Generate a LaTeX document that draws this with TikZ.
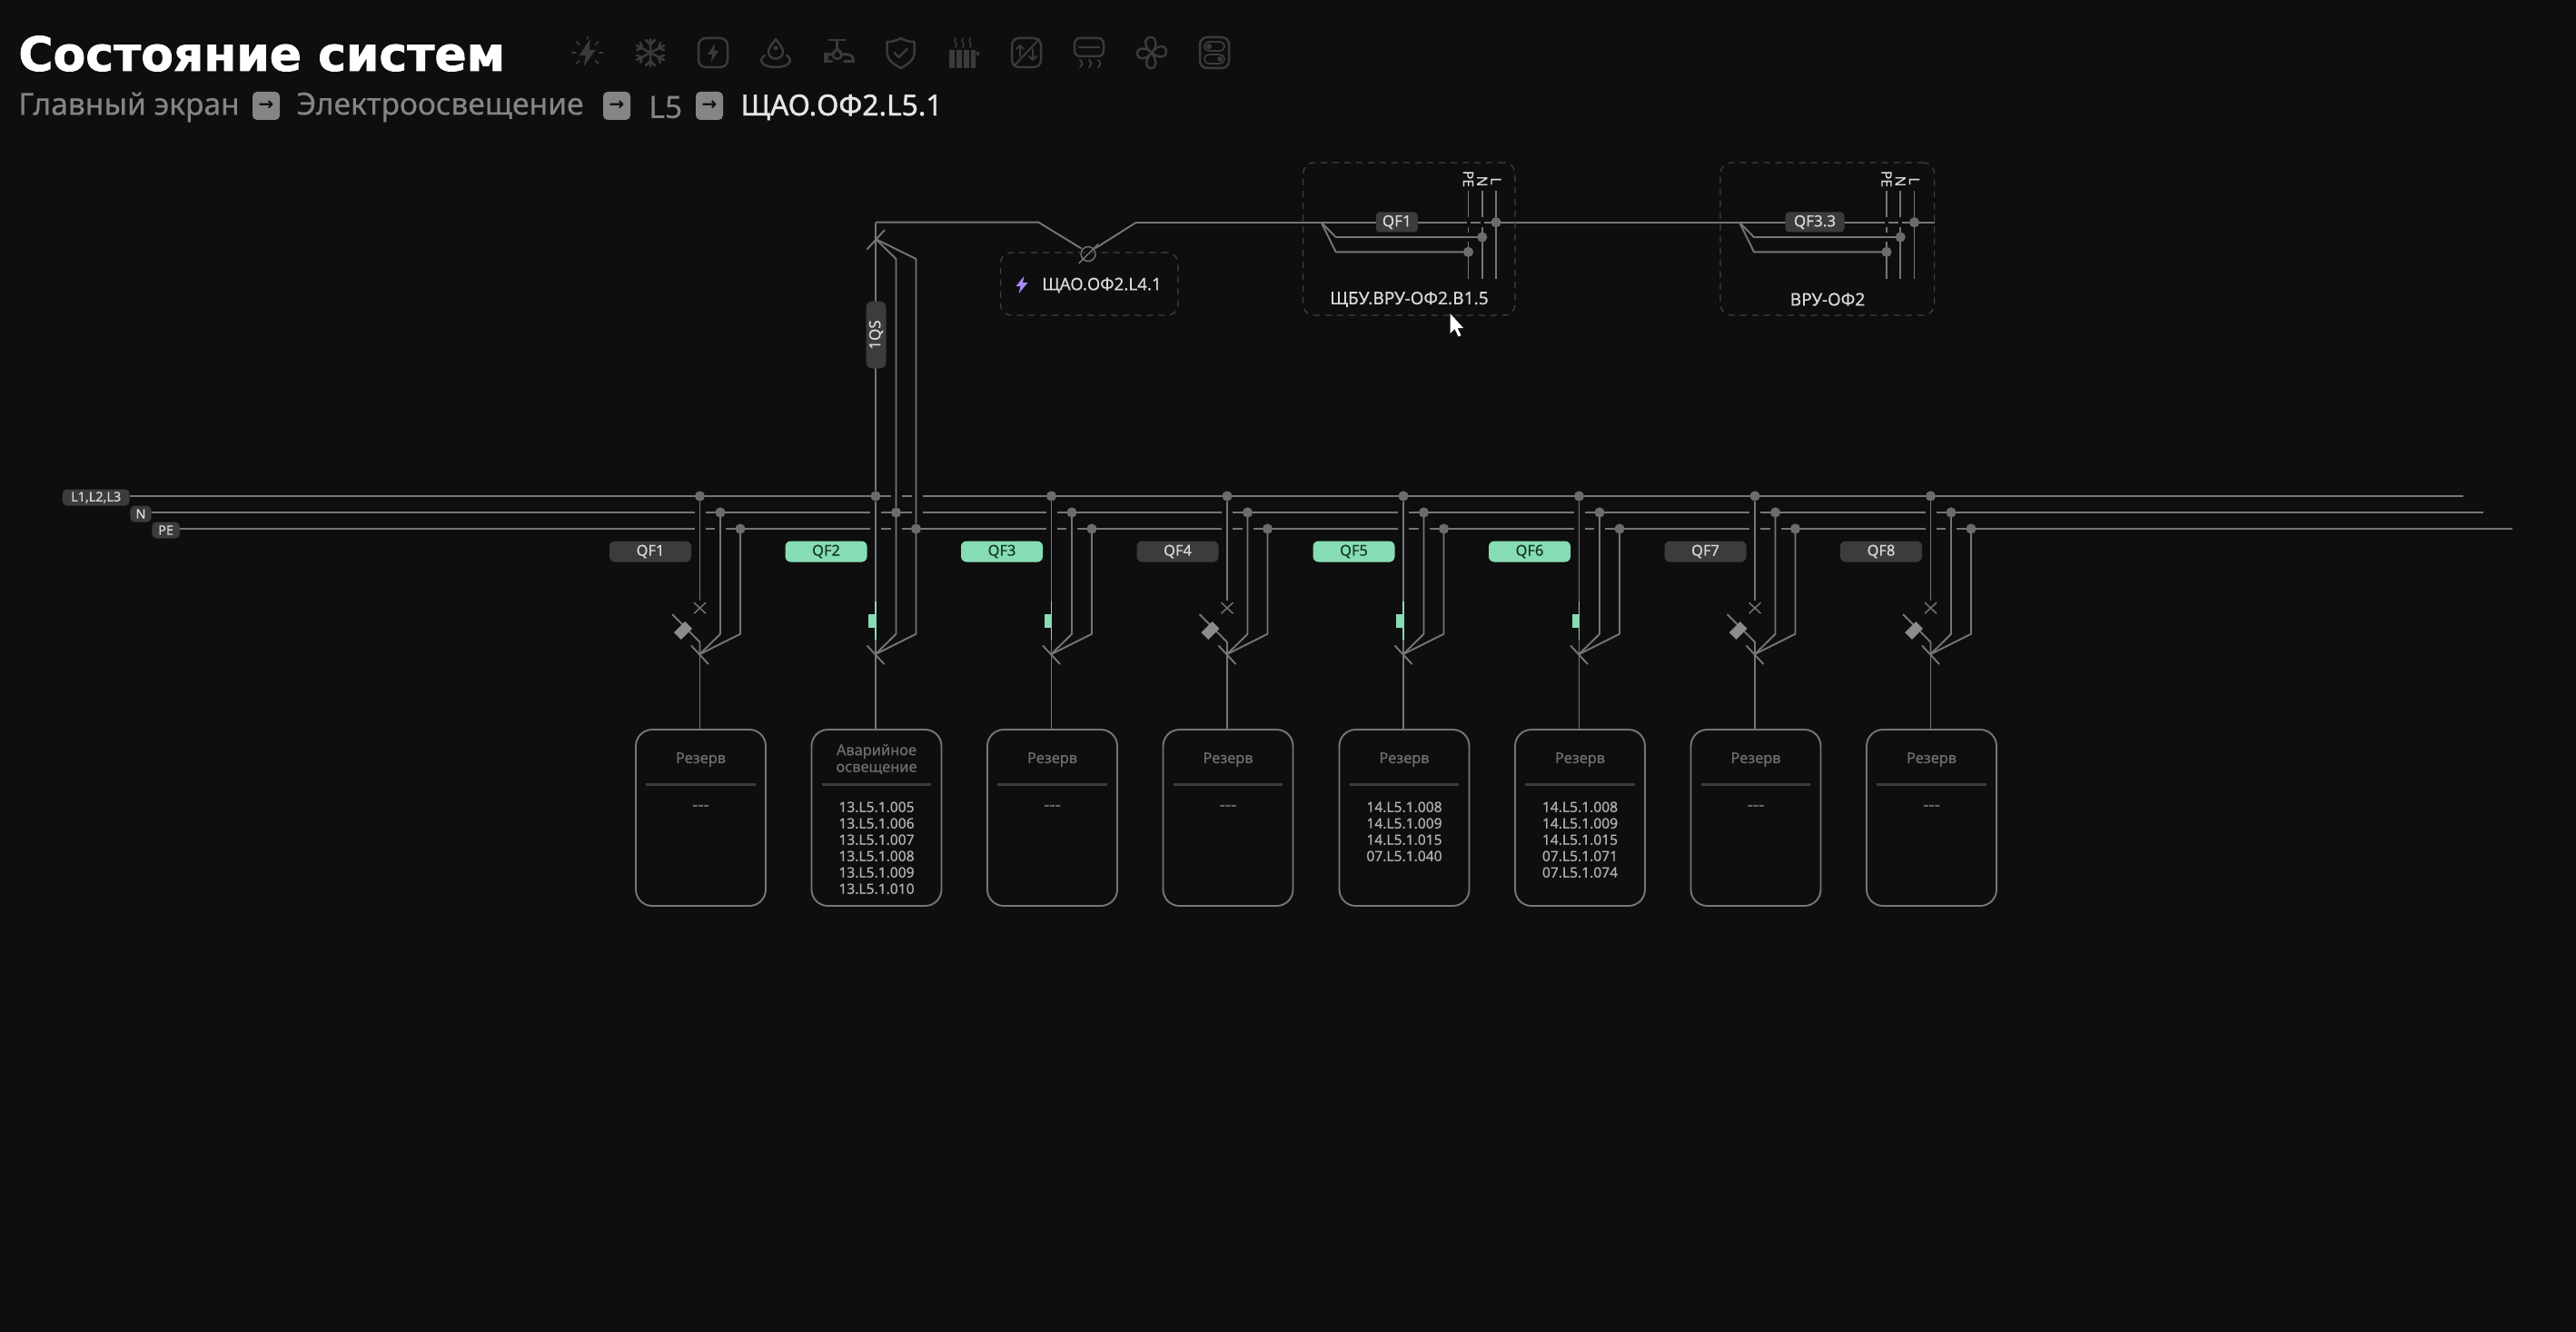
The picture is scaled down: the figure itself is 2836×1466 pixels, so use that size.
\documentclass[tikz,border=0pt]{standalone}
\usepackage{fontspec}
\setmainfont{Noto Sans}[BoldFeatures={FakeBold=0.6}]
\newfontfamily\titlefont{DejaVu Sans}[BoldFeatures={FakeBold=1.4}]
\newfontfamily\arrowfont{DejaVu Sans}
\newfontfamily\medfont{Noto Sans}[FakeBold=0.5]
\newfontfamily\strongfont{Noto Sans}[FakeBold=1.3]
\usetikzlibrary{calc}
\definecolor{bg}{HTML}{0E0E0F}
\definecolor{wire}{HTML}{767676}
\definecolor{dotc}{HTML}{6C6C6C}
\definecolor{chip}{HTML}{3C3C3C}
\definecolor{chiptext}{HTML}{D8D8D8}
\definecolor{mint}{HTML}{86DCB4}
\definecolor{minttext}{HTML}{17382B}
\definecolor{iconc}{HTML}{3A3A3A}
\definecolor{crumb}{HTML}{858585}
\definecolor{dash}{HTML}{424242}
\definecolor{head}{HTML}{6E6E6E}
\definecolor{listc}{HTML}{B0B0B0}
\definecolor{divc}{HTML}{3D3D3D}
\definecolor{bolt}{HTML}{A98BF5}
\definecolor{coil}{HTML}{8C8C8C}
\tikzset{
  wireline/.style={draw=wire,line width=0.95pt,line join=round},
  busline/.style={draw=wire,line width=1.15pt},
  gapline/.style={draw=bg,line width=2pt},
  junction/.style={circle,fill=dotc,inner sep=0pt,minimum size=5.6pt},
  chiplabel/.style={fill=chip,text=chiptext,rounded corners=2pt,inner sep=0pt,font=\medfont\fontsize{8.5}{10}\selectfont},
  buslabel/.style={chiplabel,rounded corners=2.5pt,minimum height=9pt,font=\medfont\fontsize{7.2}{9}\selectfont},
  qfdark/.style={fill=chip,text=chiptext,rounded corners=3pt,inner sep=0pt,minimum width=45pt,minimum height=11.5pt,font=\medfont\fontsize{8.2}{10}\selectfont},
  qfmint/.style={qfdark,fill=mint,text=minttext},
  loadbox/.style={draw=wire,line width=0.95pt,rounded corners=9pt,minimum width=71.5pt,minimum height=97pt,inner sep=0pt},
  boxhead/.style={text=head,font=\medfont\fontsize{8.2}{9.2}\selectfont,inner sep=0pt,align=center},
  boxlist/.style={text=listc,font=\medfont\fontsize{7.8}{9}\selectfont,inner sep=0pt},
  dashbox/.style={draw=dash,line width=0.6pt,dash pattern=on 3.5pt off 3pt,rounded corners=6pt,inner sep=0pt},
  boxtitle/.style={text=chiptext,inner sep=0pt,font=\medfont\fontsize{9.6}{11}\selectfont},
  phase/.style={text=chiptext,inner sep=0pt,rotate=-90,font=\medfont\fontsize{7.8}{8}\selectfont},
  icon/.style={draw=iconc,line width=1.25pt,line cap=round,line join=round},
  iconfill/.style={fill=iconc},
  crumbtext/.style={text=crumb,anchor=west,inner sep=0pt,font=\medfont\fontsize{16.8}{18}\selectfont},
  crumbarrow/.style={fill=crumb,text=bg,rounded corners=2.5pt,inner sep=0pt,minimum width=15pt,minimum height=15.5pt,font=\arrowfont\bfseries\fontsize{10}{10}\selectfont},
  emptylist/.style={text=head,inner sep=0pt,font=\strongfont\fontsize{9.6}{10}\selectfont},
}
\newcommand\feeder[4]{%
  \coordinate (L#1) at (#2,546);
  \coordinate (N#1) at (#2+22.5,564);
  \coordinate (P#1) at (#2+44.5,582);
  \coordinate (F#1) at (#2,720);
  \coordinate (FN#1) at (#2+22.5,697.7);
  \coordinate (FP#1) at (#2+44.5,697.7);
  \draw[gapline] (#2-6,564) -- (#2+6,564);
  \draw[gapline] (#2-6,582) -- (#2+6,582);
  \draw[gapline] (#2+16.5,582) -- (#2+28.5,582);
  \draw[wireline] (N#1) -- (FN#1) -- (F#1);
  \draw[wireline] (P#1) -- (FP#1) -- (F#1);
  \draw[wireline] ($(F#1)+(-9.5,-9.5)$) -- ($(F#1)+(9.5,11)$);
  \node[junction] (JL#1) at (L#1) {};
  \node[junction] (JN#1) at (N#1) {};
  \node[junction] (JP#1) at (P#1) {};
  \node[#4] (Q#1) at (#2-54.5,607) {#3};
}
\newcommand\tripped[2]{%
  \draw[wireline] (JL#1) -- (#2,660.7);
  \coordinate (K#1) at (#2,669.2);
  \draw[wireline,line width=0.7pt] ($(K#1)+(-6.5,-6)$) -- ($(K#1)+(6.5,6)$);
  \draw[wireline,line width=0.7pt] ($(K#1)+(-6.5,6)$) -- ($(K#1)+(6.5,-6)$);
  \draw[wireline] (#2-30.5,676) -- (#2,706.7) -- (F#1);
  \fill[fill=coil,rotate around={45:(#2-18.5,694)}] (#2-10,688.5) rectangle (#2-27,699.5);
}
\newcommand\closedon[2]{%
  \draw[wireline] (JL#1) -- (F#1);
  \draw[draw=mint,line width=0.8pt] (#2,661.7) -- (#2,704);
  \fill[mint] (#2-8,676) rectangle (#2,690.7);
}
\newcommand\loadcard[4]{%
  \node[loadbox] (B#1) at (#2+1,900) {};
  \draw[wireline] (F#1) -- (F#1 |- B#1.north);
  \node[boxhead] (H#1) at (#2+1,#4) {#3};
  \draw[draw=divc,line width=1.2pt] ($(B#1.north west)+(12,61.5)$) -- ($(B#1.north east)+(-12,61.5)$);
}
\begin{document}
\begin{tikzpicture}[x=0.5pt,y=-0.5pt]
\useasboundingbox (0,0) rectangle (2836,1466);
\fill[bg] (0,0) rectangle (2836,1466);

% --- header
\node[anchor=west,text=white,inner sep=0pt,font=\titlefont\bfseries\fontsize{26}{30}\selectfont] (title) at (20,59) {Состояние систем};
\node[crumbtext] (c1) at (20,118) {Главный экран};
\node[crumbarrow] (a1) at (293,116.5) {→};
\node[crumbtext] (c2) at (326,118) {Электроосвещение};
\node[crumbarrow] (a2) at (679,116.5) {→};
\node[crumbtext] (c3) at (714,118) {L5};
\node[crumbarrow] (a3) at (781,116.5) {→};
\node[crumbtext,text=white!90!black,font=\strongfont\fontsize{15.9}{18}\selectfont] (c4) at (815,118) {ЩАО.ОФ2.L5.1};

% --- icons
\begin{scope}[shift={(646.7,58)}]
  \fill[iconfill] (3,-15) -- (-9,3) -- (-2,3) -- (-4,15) -- (9,-3) -- (2,-3) -- cycle;
  \draw[icon,line width=0.9pt] (-17,0)--(-13,0) (13,0)--(17,0) (-12,-12)--(-9,-9) (12,-12)--(9,-9) (-12,12)--(-9,9) (12,12)--(9,9) (0,-17)--(0,-15);
\end{scope}
\begin{scope}[shift={(716,58)}]
  \draw[icon] (0,-15)--(0,15) (-15,-8)--(15,8) (-15,8)--(15,-8)
    (-5,-14)--(0,-9)--(5,-14) (-5,14)--(0,9)--(5,14)
    (-15,-3)--(-9,-5)--(-11,-11) (15,-3)--(9,-5)--(11,-11)
    (-15,3)--(-9,5)--(-11,11) (15,3)--(9,5)--(11,11);
\end{scope}
\begin{scope}[shift={(785,58)}]
  \draw[icon,rounded corners=4pt] (-16,-16) rectangle (16,16);
  \fill[iconfill] (2,-10) -- (-6,2) -- (-1,2) -- (-2,10) -- (6,-2) -- (1,-2) -- cycle;
\end{scope}
\begin{scope}[shift={(854,58)}]
  \draw[icon] (0,-15) .. controls (-5,-8) and (-8,-5) .. (-8,-1) .. controls (-8,9) and (8,9) .. (8,-1) .. controls (8,-5) and (5,-8) .. (0,-15) -- cycle;
  \draw[icon] (-12,3) .. controls (-20,8) and (-15,16) .. (0,16) .. controls (15,16) and (20,8) .. (12,3);
  \fill[iconfill] (0,-5) circle (2.5);
\end{scope}
\begin{scope}[shift={(922.7,58)}]
  \draw[icon] (-10,-14)--(8,-14) (-1,-14)--(-1,-6);
  \fill[iconfill] (-16,0) rectangle (-11,11);
  \draw[icon,line width=1.5pt] (-12,2)--(-6,2) -- (-1,-5) -- (4,2) -- (11,2) .. controls (15,2) and (17,6) .. (17,10);
  \draw[icon,line width=1.5pt] (-12,10)--(-7,10) (7,10)--(17,10);
  \draw[icon] (-1,2) circle (5);
\end{scope}
\begin{scope}[shift={(991.7,58)}]
  \draw[icon] (0,-16) .. controls (5,-13) and (10,-12) .. (15,-12) -- (15,1) .. controls (15,8) and (7,13) .. (0,17) .. controls (-7,13) and (-15,8) .. (-15,1) -- (-15,-12) .. controls (-10,-12) and (-5,-13) .. (0,-16) -- cycle;
  \draw[icon] (-7,0) -- (-2,5) -- (7,-4);
\end{scope}
\begin{scope}[shift={(1060,58)}]
  \fill[iconfill] (-15,-3) rectangle (-9,17) (-7,-3) rectangle (-1,17) (1,-3) rectangle (7,17) (9,-3) rectangle (14,17) (15,-1) rectangle (18,3);
  \draw[icon,line width=0.8pt] (-8,-16) .. controls (-11,-12) and (-5,-10) .. (-8,-6)
     (0,-16) .. controls (-3,-12) and (3,-10) .. (0,-6)
     (8,-16) .. controls (5,-12) and (11,-10) .. (8,-6);
\end{scope}
\begin{scope}[shift={(1130,58)}]
  \draw[icon,rounded corners=4pt] (-16,-16) rectangle (16,16);
  \draw[icon,line width=1pt] (-14,15) -- (14,-15);
  \draw[icon,line width=1pt] (-7,4)--(-7,-8) (-11,-4)--(-7,-8)--(-3,-4) (7,-4)--(7,8) (3,4)--(7,8)--(11,4);
\end{scope}
\begin{scope}[shift={(1199,58)}]
  \draw[icon,rounded corners=3pt] (-16,-16) rectangle (16,4);
  \draw[icon] (-11,-6)--(11,-6);
  \draw[icon,line width=1pt] (-10,8) .. controls (-7,11) and (-7,13) .. (-10,16)
     (0,8) .. controls (3,11) and (3,13) .. (0,16)
     (10,8) .. controls (13,11) and (13,13) .. (10,16);
\end{scope}
\begin{scope}[shift={(1268,58)}]
  \draw[icon] (0,0) .. controls (-9,-6) and (-9,-17) .. (-1,-17) .. controls (6,-17) and (6,-6) .. (0,0)
     .. controls (6,-9) and (16,-9) .. (16,-1) .. controls (16,6) and (6,6) .. (0,0)
     .. controls (6,9) and (6,17) .. (-1,17) .. controls (-8,17) and (-7,6) .. (0,0)
     .. controls (-6,8) and (-16,8) .. (-16,1) .. controls (-16,-6) and (-6,-6) .. (0,0);
\end{scope}
\begin{scope}[shift={(1337,58)}]
  \draw[icon,rounded corners=4pt] (-16,-17) rectangle (16,17);
  \draw[icon,line width=0.9pt,rounded corners=2.4pt] (-11,-12) rectangle (11,-2);
  \draw[icon,line width=0.9pt,rounded corners=2.4pt] (-11,2) rectangle (11,12);
  \fill[iconfill] (-6,-7) circle (3) (6,7) circle (3);
\end{scope}

% --- bus bars
\node[buslabel,minimum width=37pt] (lL) at (105.7,547.5) {L1,L2,L3};
\node[buslabel,minimum width=11.7pt] (lN) at (155,565.5) {N};
\node[buslabel,minimum width=15.3pt] (lP) at (182.6,583.5) {PE};
\coordinate (eL) at (2712,546);
\coordinate (eN) at (2734,564);
\coordinate (eP) at (2766,582);
\draw[busline] (lL.east |- eL) -- (eL);
\draw[busline] (lN.east |- eN) -- (eN);
\draw[busline] (lP.east |- eP) -- (eP);

% --- feeders
\feeder{1}{770.5}{QF1}{qfdark}  \tripped{1}{770.5}
\feeder{2}{964}{QF2}{qfmint}    \closedon{2}{964}
\feeder{3}{1157.5}{QF3}{qfmint} \closedon{3}{1157.5}
\feeder{4}{1351}{QF4}{qfdark}   \tripped{4}{1351}
\feeder{5}{1545}{QF5}{qfmint}   \closedon{5}{1545}
\feeder{6}{1738.5}{QF6}{qfmint} \closedon{6}{1738.5}
\feeder{7}{1932}{QF7}{qfdark}   \tripped{7}{1932}
\feeder{8}{2125.5}{QF8}{qfdark} \tripped{8}{2125.5}

% --- cards
\loadcard{1}{770.5}{Резерв}{836}
\loadcard{2}{964}{Аварийное\\освещение}{835.5}
\loadcard{3}{1157.5}{Резерв}{836}
\loadcard{4}{1351}{Резерв}{836}
\loadcard{5}{1545}{Резерв}{836}
\loadcard{6}{1738.5}{Резерв}{836}
\loadcard{7}{1932}{Резерв}{836}
\loadcard{8}{2125.5}{Резерв}{836}
\node[emptylist] (t1) at (771.5,889) {-{}-{}-};
\node[emptylist] (t3) at (1158.5,889) {-{}-{}-};
\node[emptylist] (t4) at (1352,889) {-{}-{}-};
\node[emptylist] (t7) at (1933,889) {-{}-{}-};
\node[emptylist] (t8) at (2126.5,889) {-{}-{}-};
\node[boxlist,align=center,anchor=north] (t2) at (965,882) {13.L5.1.005\\13.L5.1.006\\13.L5.1.007\\13.L5.1.008\\13.L5.1.009\\13.L5.1.010};
\node[boxlist,align=center,anchor=north] (t5) at (1546,882) {14.L5.1.008\\14.L5.1.009\\14.L5.1.015\\07.L5.1.040};
\node[boxlist,align=center,anchor=north] (t6) at (1739.5,882) {14.L5.1.008\\14.L5.1.009\\14.L5.1.015\\07.L5.1.071\\07.L5.1.074};

% --- QF2 riser
\draw[gapline] (981,546) -- (993,546) (1003.5,546) -- (1015.5,546) (1003.5,564) -- (1015.5,564);
\coordinate (Top) at (964,244.7);
\coordinate (Fan) at (964,263);
\coordinate (RN) at (986.5,285);
\coordinate (RP) at (1008.5,285);
\draw[wireline] (JN2) -- (RN) -- (Fan);
\draw[wireline] (JP2) -- (RP) -- (Fan);
\draw[wireline] (JL2) -- (Top);
\draw[wireline] (974,253) -- (954.5,274.5);
\node[chiplabel,rotate=90,minimum width=37pt,minimum height=11pt,rounded corners=3.5pt] (QS) at (964.5,368.5) {1QS};

% --- incoming line
\coordinate (Tap1) at (1143.4,244.7);
\coordinate (Tap2) at (1251,244.7);
\coordinate (EndTop) at (2130,244.7);
\coordinate (Sw) at (1198,279.5);
\draw[wireline] (Top) -- (Tap1) -- (1190.5,273.5);
\draw[wireline] (Tap2) -- (EndTop);
\draw[wireline] (Tap2) -- (1205.5,273.5);
\node[circle,draw=wire,line width=0.7pt,minimum size=8pt,inner sep=0pt] (SwC) at (Sw) {};
\draw[wireline,line width=0.7pt] (1187.5,290) -- (1209,268.5);

% --- dashed boxes
\node[dashbox,minimum width=97.8pt,minimum height=34.5pt] (BoxA) at (1199.2,312.5) {};
\node[boxtitle,anchor=west,font=\medfont\fontsize{9.4}{11}\selectfont] (LA) at (1147,314) {ЩАО.ОФ2.L4.1};
\fill[bolt] (1127.5,304) -- (1118.5,315) -- (1123.5,315) -- (1121.5,323) -- (1131.5,311) -- (1126,311) -- cycle;

\node[dashbox,minimum width=116.7pt,minimum height=84pt] (BoxB) at (1551.3,263) {};
\node[dashbox,minimum width=117.8pt,minimum height=84pt] (BoxC) at (2011.8,263) {};
\node[boxtitle] (LB) at (1551.5,329.5) {ЩБУ.ВРУ-ОФ2.В1.5};
\node[boxtitle] (LC) at (2012,329.5) {ВРУ-ОФ2};

% panel internals
\newcommand\panel[3]{%
  \coordinate (pS#1) at (#2,244.7);
  \draw[wireline] (#3,210) -- (#3,306.7);
  \draw[wireline] (#3-15.3,210) -- (#3-15.3,306.7);
  \draw[wireline] (#3-30.5,210) -- (#3-30.5,306.7);
  \draw[gapline] (#3-15.3,239.5) -- (#3-15.3,250);
  \draw[gapline] (#3-30.5,239.5) -- (#3-30.5,250);
  \draw[gapline] (#3-30.5,256) -- (#3-30.5,266.5);
  \draw[wireline] (pS#1) -- (#2+16,261) -- (#3-15.3,261);
  \draw[wireline] (pS#1) -- (#2+16,277.3) -- (#3-30.5,277.3);
  \node[junction] (pL#1) at (#3,244.7) {};
  \node[junction] (pN#1) at (#3-15.3,261) {};
  \node[junction] (pP#1) at (#3-30.5,277.3) {};
  \node[phase] (tL#1) at (#3,199.5) {L};
  \node[phase] (tN#1) at (#3-15.3,199.5) {N};
  \node[phase] (tP#1) at (#3-30.5,197) {PE};
}
\panel{b}{1454.6}{1647}
\panel{c}{1915}{2107.5}
\node[chiplabel,minimum width=23pt,minimum height=11pt] (QB) at (1537.8,244.5) {QF1};
\node[chiplabel,minimum width=32.5pt,minimum height=11pt] (QC) at (1998,244.5) {QF3.3};

% --- mouse pointer
\fill[white] (1596.5,345) -- (1596.5,367) -- (1601.5,362) -- (1605.5,370.5) -- (1608.5,369) -- (1604.5,361) -- (1611,361) -- cycle;
\end{tikzpicture}
\end{document}
